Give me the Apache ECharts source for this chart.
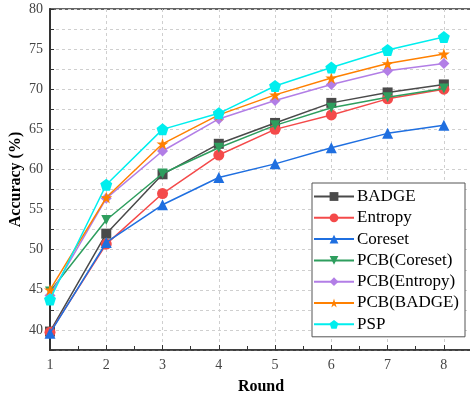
<!DOCTYPE html>
<html>
<head>
<meta charset="utf-8">
<script src="https://cdn.jsdelivr.net/npm/echarts@6/dist/echarts.min.js"></script>
<style>html,body{margin:0;padding:0;background:#fff}#c{width:470px;height:394px}</style>
</head>
<body>
<div id="c"></div>
<script>
const rounds = [1, 2, 3, 4, 5, 6, 7, 8];
const seriesNames = ['BADGE', 'Entropy', 'Coreset', 'PCB(Coreset)', 'PCB(Entropy)', 'PCB(BADGE)', 'PSP'];
const badge       = [39.8, 52.0, 59.4, 63.2, 65.8, 68.3, 69.6, 70.6];
const entropy     = [39.7, 50.7, 57.0, 61.8, 65.0, 66.8, 68.8, 70.0];
const coreset     = [39.6, 50.9, 55.6, 59.0, 60.7, 62.7, 64.5, 65.5];
const pcbCoreset  = [44.8, 53.7, 59.5, 62.7, 65.5, 67.7, 69.0, 70.1];
const pcbEntropy  = [44.3, 56.4, 62.3, 66.3, 68.6, 70.6, 72.3, 73.2];
const pcbBadge    = [45.0, 56.5, 63.2, 66.8, 69.3, 71.4, 73.2, 74.4];
const psp         = [43.8, 58.1, 65.0, 67.0, 70.4, 72.7, 74.9, 76.5];
const yTicks = [40, 45, 50, 55, 60, 65, 70, 75, 80];

const allData = [badge, entropy, coreset, pcbCoreset, pcbEntropy, pcbBadge, psp];
const colors = ['#4a4a4a', '#f44a4a', '#1f6fe0', '#2e9e5e', '#b27ee6', '#ff8000', '#00eeee'];
const symbols = [
  'rect', 'circle', 'triangle',
  'path://M0,0 L100,0 L50,90 Z',
  'diamond',
  'path://M50,0 L61,35 L98,35 L68,57 L79,91 L50,70 L21,91 L32,57 L2,35 L39,35 Z',
  'path://M50,0 L98,35 L79,92 L21,92 L2,35 Z'
];
const sizes = [10, 11, 11, 10, 11, 12, 12];

const chart = echarts.init(document.getElementById('c'));
const serif = '"Liberation Serif", "DejaVu Serif", serif';
chart.setOption({
  animation: false,
  backgroundColor: '#fff',
  grid: { left: 50, right: -2, top: 9, bottom: 44, containLabel: false, outerBoundsMode: 'none',
    show: true, borderColor: '#333', borderWidth: 1.5 },
  xAxis: {
    type: 'value', min: 1, max: 8.5, interval: 1,
    name: 'Round', nameLocation: 'middle', nameGap: 29,
    nameTextStyle: { fontFamily: serif, fontWeight: 'bold', fontSize: 16, color: '#000' },
    axisLine: { lineStyle: { color: '#333', width: 1.5 } },
    axisTick: { inside: true, length: 5, lineStyle: { color: '#333' } },
    minorTick: { show: true, splitNumber: 2, length: 4, lineStyle: { color: '#333' } },
    axisLabel: { fontFamily: serif, fontSize: 14, color: '#444', margin: 8,
      formatter: v => (rounds.indexOf(v) >= 0 ? String(v) : '') },
    splitLine: { show: true, lineStyle: { type: [3, 3], color: '#cfcfcf' } }
  },
  yAxis: {
    type: 'value', min: 37.5, max: 80, interval: 2.5,
    name: 'Accuracy (%)', nameLocation: 'middle', nameGap: 26, nameMoveOverlap: false,
    nameTextStyle: { fontFamily: serif, fontWeight: 'bold', fontSize: 16, color: '#000' },
    axisLine: { show: true, lineStyle: { color: '#333', width: 2 } },
    axisTick: { show: true, inside: true, length: 4, lineStyle: { color: '#333' } },
    axisLabel: { fontFamily: serif, fontSize: 14, color: '#444', margin: 7,
      formatter: v => (yTicks.indexOf(v) >= 0 ? String(v) : '') },
    splitLine: { show: true, lineStyle: { type: [3, 3], color: '#cfcfcf' } }
  },
  legend: {
    orient: 'vertical', left: 312, top: 183, width: 154,
    itemWidth: 40, itemHeight: 11, itemGap: 4.3,
    padding: [5, 6, 4, 1],
    backgroundColor: '#fff', borderColor: '#555', borderWidth: 1,
    textStyle: { fontFamily: serif, fontSize: 17, color: '#000', padding: [0, 0, 0, -2] },
    data: seriesNames
  },
  series: seriesNames.map((n, i) => ({
    name: n, type: 'line',
    data: rounds.map((r, j) => [r, allData[i][j]]),
    symbol: symbols[i], symbolSize: sizes[i], showAllSymbol: true,
    itemStyle: { color: colors[i] },
    lineStyle: { color: colors[i], width: 1.5 },
    z: 2 + i
  }))
});
</script>
</body>
</html>
